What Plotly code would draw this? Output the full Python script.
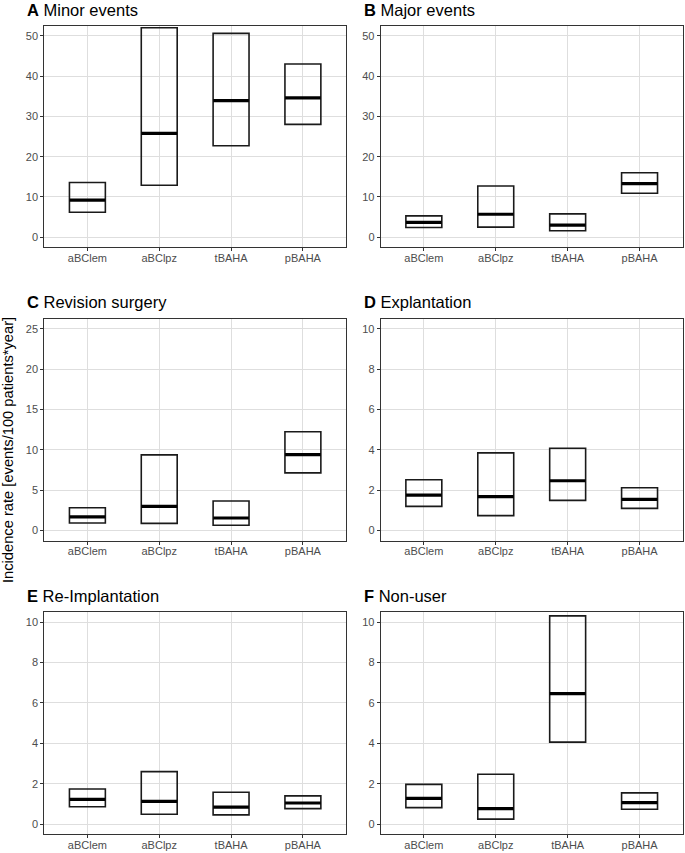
import plotly.graph_objects as go

categories = ["aBClem", "aBClpz", "tBAHA", "pBAHA"]

panel_titles = ["Minor events", "Major events", "Revision surgery",
                "Explantation", "Re-Implantation", "Non-user"]
panel_letters = ["A", "B", "C", "D", "E", "F"]

# lower bound, median (point estimate), upper bound per panel
minor_low = [6.2, 12.9, 22.7, 28.0]
minor_mid = [9.2, 25.8, 33.9, 34.6]
minor_high = [13.6, 52.0, 50.6, 43.0]

major_low = [2.4, 2.5, 1.6, 10.9]
major_mid = [3.7, 5.7, 3.0, 13.3]
major_high = [5.3, 12.7, 5.8, 16.0]

revision_low = [0.95, 0.9, 0.66, 7.15]
revision_mid = [1.69, 3.0, 1.56, 9.42]
revision_high = [2.84, 9.38, 3.66, 12.25]

explant_low = [1.2, 0.74, 1.5, 1.1]
explant_mid = [1.76, 1.68, 2.47, 1.55]
explant_high = [2.52, 3.85, 4.08, 2.12]

reimpl_low = [0.86, 0.49, 0.46, 0.77]
reimpl_mid = [1.23, 1.13, 0.84, 1.05]
reimpl_high = [1.74, 2.6, 1.58, 1.4]

nonuser_low = [0.82, 0.25, 4.06, 0.74]
nonuser_mid = [1.28, 0.77, 6.46, 1.07]
nonuser_high = [1.97, 2.47, 10.31, 1.55]

y_limits = [[0, 50], [0, 50], [0, 25], [0, 10], [0, 10], [0, 10]]
y_ticks = [[0, 10, 20, 30, 40, 50], [0, 10, 20, 30, 40, 50],
           [0, 5, 10, 15, 20, 25], [0, 2, 4, 6, 8, 10],
           [0, 2, 4, 6, 8, 10], [0, 2, 4, 6, 8, 10]]

panels = [
    (minor_low, minor_mid, minor_high),
    (major_low, major_mid, major_high),
    (revision_low, revision_mid, revision_high),
    (explant_low, explant_mid, explant_high),
    (reimpl_low, reimpl_mid, reimpl_high),
    (nonuser_low, nonuser_mid, nonuser_high),
]

W, H = 685, 853
col_px = [(44.3, 346.0), (380.7, 682.7)]
row_px = [(25.7, 247.3), (318.7, 540.7), (612.0, 834.3)]
title_y_px = [9.5, 302.0, 596.0]
title_x_px = [25.0, 361.5]

fig = go.Figure()
layout = {}
annotations = []
for i, (low, mid, high) in enumerate(panels):
    r, c = divmod(i, 2)
    ax = "" if i == 0 else str(i + 1)
    xref, yref = "x" + ax, "y" + ax
    fig.add_trace(go.Bar(
        x=categories, y=[h - l for l, h in zip(low, high)], base=low,
        width=0.5, xaxis=xref, yaxis=yref,
        marker=dict(color="rgba(0,0,0,0)", line=dict(color="#1a1a1a", width=1.6)),
        showlegend=False, hoverinfo="skip"))
    fig.add_trace(go.Scatter(
        x=categories, y=mid, mode="markers", xaxis=xref, yaxis=yref,
        marker=dict(symbol="line-ew", size=25.5, color="#000000",
                    line=dict(color="#000000", width=3.2)),
        showlegend=False, hoverinfo="skip"))
    x0, x1 = col_px[c]
    yt, yb = row_px[r]
    lo, hi = y_limits[i]
    pad = 0.05 * (hi - lo)
    common = dict(showline=True, linecolor="#333333", linewidth=1, mirror=True,
                  ticks="outside", ticklen=3, tickcolor="#333333", tickwidth=1,
                  showgrid=True, gridcolor="#DEDEDE", gridwidth=1, zeroline=False,
                  tickfont=dict(family="Liberation Sans, Arial", size=11, color="#4D4D4D"))
    layout["xaxis" + ax] = dict(common, domain=[x0 / W, x1 / W], anchor=yref,
                                type="category", categoryorder="array",
                                categoryarray=categories, range=[-0.6, 3.6],
                                ticklabelstandoff=-3)
    layout["yaxis" + ax] = dict(common, domain=[1 - yb / H, 1 - yt / H], anchor=xref,
                                range=[lo - pad, hi + pad], tickvals=y_ticks[i])
    annotations.append(dict(
        x=title_x_px[c] / W, y=1 - title_y_px[r] / H, xref="paper", yref="paper",
        xanchor="left", yanchor="middle", showarrow=False,
        text="<b>" + panel_letters[i] + "</b> " + panel_titles[i],
        font=dict(family="Liberation Sans, Arial", size=16.5, color="#000000")))

annotations.append(dict(
    x=8 / W, y=1 - 450 / H, xref="paper", yref="paper", textangle=-90,
    xanchor="center", yanchor="middle", showarrow=False,
    text="Incidence rate [events/100 patients*year]",
    font=dict(family="Liberation Sans, Arial", size=14.7, color="#000000")))

fig.update_layout(**layout)
fig.update_layout(
    width=W, height=H, margin=dict(l=0, r=0, t=0, b=0),
    paper_bgcolor="white", plot_bgcolor="white",
    barmode="overlay", annotations=annotations,
)
fig.write_html("out.html")
